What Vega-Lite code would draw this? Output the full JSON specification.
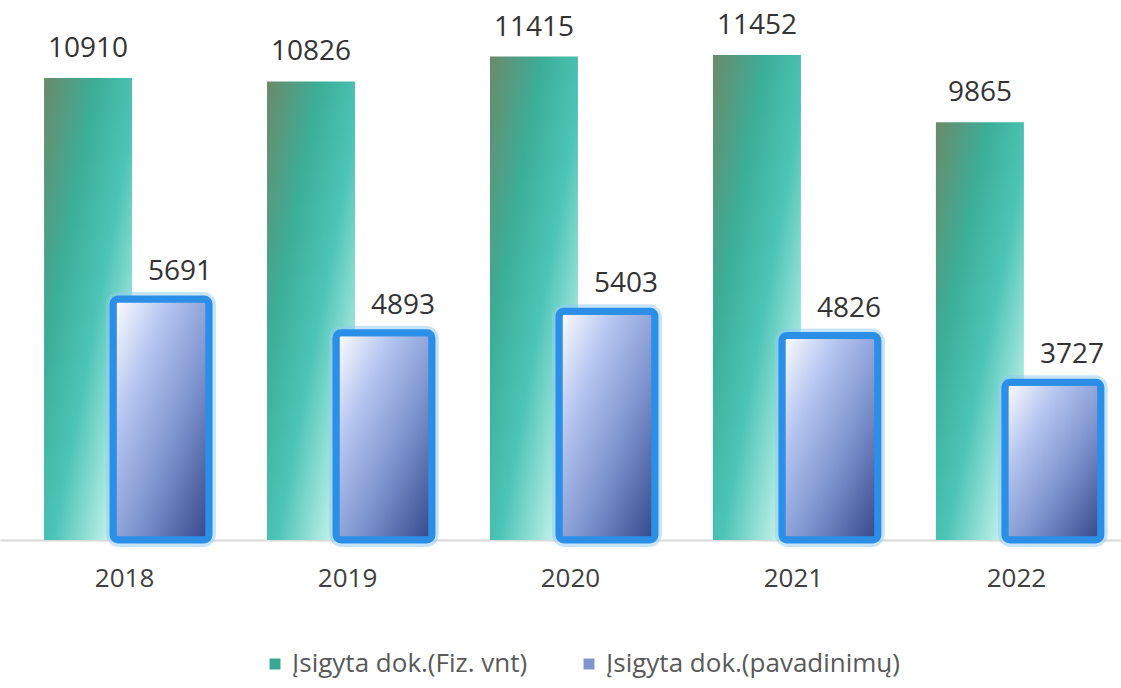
{
  "$schema": "https://vega.github.io/schema/vega-lite/v6.json",
  "width": 1121,
  "height": 540,
  "autosize": {"type": "none"},
  "padding": {"left": 0, "top": 0, "right": 0, "bottom": 148},
  "background": "white",
  "config": {"view": {"stroke": null}},
  "data": {
    "values": [
      {"year": 2018, "series": "Įsigyta dok.(Fiz. vnt)", "value": 10910},
      {"year": 2019, "series": "Įsigyta dok.(Fiz. vnt)", "value": 10826},
      {"year": 2020, "series": "Įsigyta dok.(Fiz. vnt)", "value": 11415},
      {"year": 2021, "series": "Įsigyta dok.(Fiz. vnt)", "value": 11452},
      {"year": 2022, "series": "Įsigyta dok.(Fiz. vnt)", "value": 9865},
      {"year": 2018, "series": "Įsigyta dok.(pavadinimų)", "value": 5691},
      {"year": 2019, "series": "Įsigyta dok.(pavadinimų)", "value": 4893},
      {"year": 2020, "series": "Įsigyta dok.(pavadinimų)", "value": 5403},
      {"year": 2021, "series": "Įsigyta dok.(pavadinimų)", "value": 4826},
      {"year": 2022, "series": "Įsigyta dok.(pavadinimų)", "value": 3727}
    ]
  },
  "encoding": {
    "x": {
      "field": "year", "type": "quantitative",
      "scale": {"domain": [2017.466, 2022.449], "nice": false, "zero": false},
      "axis": {
        "values": [2018, 2019, 2020, 2021, 2022], "format": "d", "title": null,
        "ticks": false, "grid": false, "domainColor": "#d9d9d9", "domainWidth": 2,
        "labelFont": "Open Sans", "labelFontSize": 26, "labelColor": "#404040",
        "labelPadding": 25, "labelFlush": false
      }
    },
    "y": {
      "field": "value", "type": "quantitative",
      "scale": {"domain": [0, 12750], "nice": false},
      "axis": null
    }
  },
  "layer": [
    {
      "mark": {"type": "bar", "width": 2, "opacity": 0},
      "encoding": {
        "color": {
          "field": "series", "type": "nominal",
          "scale": {
            "domain": ["Įsigyta dok.(Fiz. vnt)", "Įsigyta dok.(pavadinimų)"],
            "range": ["#3aa890", "#8095d0"]
          },
          "legend": {
            "orient": "none", "legendX": 262, "legendY": 651,
            "direction": "horizontal", "title": null,
            "symbolType": "square", "symbolSize": 120, "symbolStrokeWidth": 0,
            "symbolOpacity": 1, "labelLimit": 500,
            "labelFont": "Open Sans", "labelFontSize": 26, "labelColor": "#595959",
            "columnPadding": 48
          }
        }
      }
    },
    {
      "transform": [{"filter": "datum.series === 'Įsigyta dok.(Fiz. vnt)'"}],
      "mark": {"type": "bar", "width": 88, "xOffset": -36,
               "fill": {"gradient": "linear", "x1": 0, "y1": 0, "x2": 1, "y2": 1,
                 "stops": [
                   {"offset": 0, "color": "#6b8a6a"},
                   {"offset": 0.3, "color": "#3bae98"},
                   {"offset": 0.55, "color": "#4cc4b6"},
                   {"offset": 0.8, "color": "#a8e8e0"},
                   {"offset": 1, "color": "#ffffff"}
                 ]}},
      "encoding": {}
    },
    {
      "transform": [{"filter": "datum.series === 'Įsigyta dok.(pavadinimų)'"}],
      "mark": {"type": "bar", "width": 96, "xOffset": 37, "fill": "transparent",
               "stroke": "#8fcbf6", "strokeWidth": 14, "strokeOpacity": 0.5, "cornerRadius": 6},
      "encoding": {}
    },
    {
      "transform": [{"filter": "datum.series === 'Įsigyta dok.(pavadinimų)'"}],
      "mark": {"type": "bar", "width": 96, "xOffset": 37, "stroke": "#2b8fe8",
               "strokeWidth": 7, "cornerRadius": 5,
               "fill": {"gradient": "linear", "x1": 0, "y1": 0, "x2": 1, "y2": 1,
                 "stops": [
                   {"offset": 0, "color": "#ffffff"},
                   {"offset": 0.3, "color": "#b4c4f0"},
                   {"offset": 0.6, "color": "#7f95cf"},
                   {"offset": 1, "color": "#34468a"}
                 ]}},
      "encoding": {}
    },
    {
      "transform": [{"filter": "datum.series === 'Įsigyta dok.(Fiz. vnt)'"}],
      "mark": {"type": "text", "xOffset": -36, "dy": -21, "baseline": "alphabetic",
               "font": "Open Sans", "fontSize": 28, "color": "#333333"},
      "encoding": {"text": {"field": "value", "type": "quantitative", "format": "d"}}
    },
    {
      "transform": [{"filter": "datum.series === 'Įsigyta dok.(pavadinimų)'"}],
      "mark": {"type": "text", "xOffset": 56, "dy": -19, "baseline": "alphabetic",
               "font": "Open Sans", "fontSize": 28, "color": "#333333"},
      "encoding": {"text": {"field": "value", "type": "quantitative", "format": "d"}}
    }
  ]
}
